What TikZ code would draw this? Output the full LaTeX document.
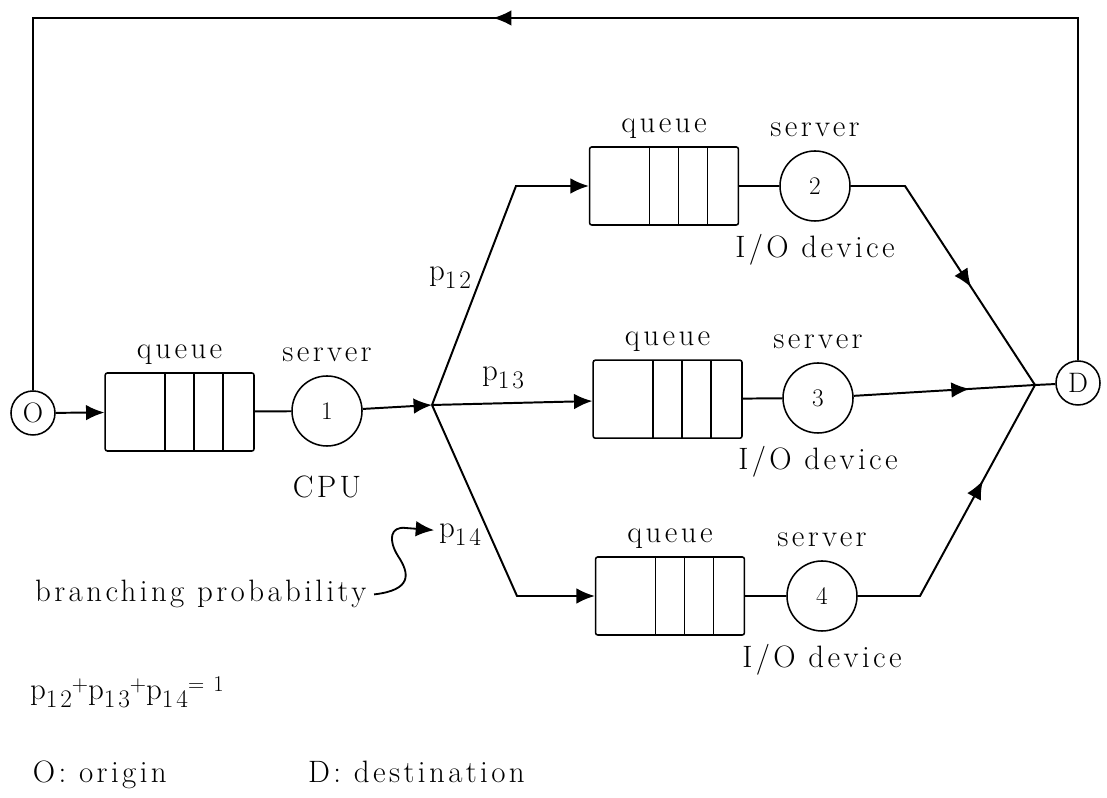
\documentclass[tikz,border=0pt]{standalone}
\usepackage{fontspec}
\setmainfont{Latin Modern Roman}
\usepackage{tikz}
\usetikzlibrary{arrows.meta,positioning,decorations.markings}
\newcommand{\lsfont}{\fontsize{22}{26}\selectfont\addfontfeatures{LetterSpace=11}}
\newcommand{\pp}[1]{p\raisebox{-5.5pt}{\fontsize{18}{20}\selectfont#1}}
\newcommand{\hi}[1]{\raisebox{6pt}{\fontsize{16}{18}\selectfont#1}}
\tikzset{
  wire/.style={line width=1.4pt},
  tip/.style={-{Latex[length=4.6mm,width=3.9mm]}},
  midarr/.style={postaction={decorate, decoration={markings,
      mark=at position #1 with {\arrow{Latex[length=4.6mm,width=3.9mm]}}}}},
  qbox/.style={draw, line width=1.1pt, rounded corners=1.5pt, inner sep=0pt,
              minimum width=3.72cm, minimum height=1.95cm,
              path picture={\foreach \dx in {1.5,2.22,2.95}
                \draw[line width=1.1pt] ([xshift=\dx cm]path picture bounding box.south west)
                  -- ([xshift=\dx cm]path picture bounding box.north west);}},
  srv/.style={circle, draw, line width=1.1pt, minimum size=1.75cm, inner sep=0pt,
              font=\fontsize{18}{20}\selectfont},
  term/.style={circle, draw, line width=1.1pt, minimum size=1.1cm, inner sep=0pt,
              font=\fontsize{20}{24}\selectfont},
  lbl/.style={font=\lsfont},
}
\begin{document}
\begin{tikzpicture}
    \useasboundingbox (0,0) rectangle (27.675,19.95);
    % stations
    \node[term] (orig) at (0.825,9.625) {O};
    \node[qbox] (q1) at (4.49,9.65) {};
    \node[srv] (s1) at (8.175,9.675) {1};
    \coordinate (jn) at (10.8,9.825);
    \coordinate (c2) at (12.9,15.3);
    \node[qbox] (q2) at (16.6,15.3) {};
    \node[srv] (s2) at (20.375,15.3) {2};
    \coordinate (c2r) at (22.625,15.3);
    \node[qbox] (q3) at (16.69,9.97) {};
    \node[srv] (s3) at (20.45,10.0) {3};
    \coordinate (c4) at (12.925,5.05);
    \node[qbox] (q4) at (16.75,5.05) {};
    \node[srv] (s4) at (20.55,5.05) {4};
    \coordinate (c4r) at (23.0,5.05);
    \coordinate (dj) at (25.875,10.325);
    \node[term] (dest) at (26.95,10.375) {D};
    \coordinate (tr) at (26.95,19.5);
    \coordinate (tl) at (0.825,19.5);
    % labels
    \foreach \q/\s in {q1/s1,q2/s2,q3/s3,q4/s4} {
      \node[lbl, above=0.08cm of \q] (\q lbl) {queue};
      \node[lbl, above=0.22cm of \s] (\s lbl) {server};
    }
    \foreach \s in {s2,s3,s4}
      \node[lbl, below=0.18cm of \s] (\s dev) {I/O device};
    \node[lbl, below=0.6cm of s1] (cpu) {CPU};
    \node[lbl] (p12) at (11.25,13.0) {\pp{12}};
    \node[lbl] (p13) at (12.575,10.5) {\pp{13}};
    \node[lbl] (p14) at (11.5,6.575) {\pp{14}};
    % flows
    \draw[wire, tip] (orig) -- (q1);
    \draw[wire] (q1) -- (s1);
    \draw[wire, tip] (s1) -- (jn);
    \draw[wire, tip] (jn) -- (c2) -- (q2);
    \draw[wire, tip] (jn) -- (q3);
    \draw[wire, tip] (jn) -- (c4) -- (q4);
    \draw[wire] (q2) -- (s2);
    \draw[wire] (q3) -- (s3);
    \draw[wire] (q4) -- (s4);
    \draw[wire, midarr=0.6] (s2) -- (c2r) -- (dj);
    \draw[wire, midarr=0.64] (s3) -- (dj);
    \draw[wire, midarr=0.64] (s4) -- (c4r) -- (dj);
    \draw[wire] (dj) -- (dest);
    \draw[wire, midarr=0.527] (dest) -- (tr) -- (tl) -- (orig);
    % notes
    \node[lbl, anchor=base west] (bp) at (0.755,4.9) {branching probability};
    \draw[line width=1.3pt, tip] ([xshift=2pt]bp.east) .. controls (10.3,5.2) and (10.25,5.6) .. (9.95,6.05)
      .. controls (9.7,6.45) and (9.75,6.8) .. (10.15,6.75) -- ([yshift=0.12cm]p14.west);
    \node[lbl, anchor=base west] (sum) at (0.63,2.45) {\pp{12}\hi{+}\pp{13}\hi{+}\pp{14}\hi{= 1}};
    \node[lbl, anchor=base west] (olab) at (0.7,0.375) {O: origin};
    \node[lbl, anchor=base west] (dlab) at (7.58,0.375) {D: destination};
\end{tikzpicture}
\end{document}
